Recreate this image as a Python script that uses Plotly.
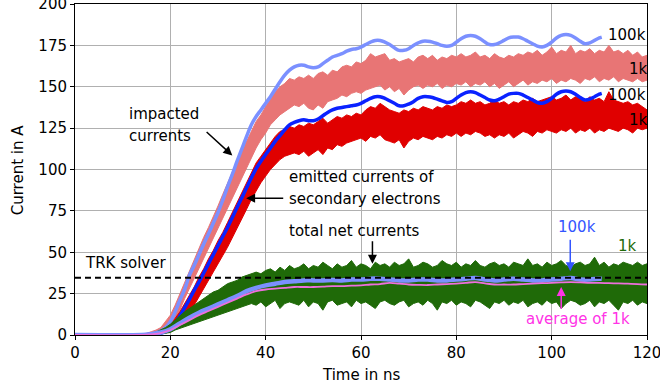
import plotly.graph_objects as go

# ---------------- data ----------------
# smooth 100k curves (impacted / emitted), t in ns, current in A
T_SMOOTH = [0, 14, 16, 17, 18, 19, 20, 21, 22, 23, 24, 25, 26, 27, 28, 29, 30, 31, 32, 33, 34, 35, 36, 37, 38, 39,
            40, 41, 42, 43, 44, 45, 46, 47, 48, 49, 50, 51, 52, 53, 54, 55, 56, 57, 58, 59, 60, 61, 62, 63, 64,
            65, 66, 67, 68, 69, 70, 71, 72, 73, 74, 75, 76, 77, 78, 79, 80, 81, 82, 83, 84, 85, 86, 87, 88, 89,
            90, 91, 92, 93, 94, 95, 96, 97, 98, 99, 100, 101, 102, 103, 104, 105, 106, 107, 108, 109, 110, 110.5]
IMPACT_100K = [0, 0, 0.6, 1.3, 2.5, 4.5, 8, 14, 21, 27.5, 36, 42, 48.5, 55, 61, 67.5, 74, 81.5, 89.5, 97, 105,
               112.5, 120, 127, 132, 136, 140, 144, 148.5, 153, 157, 160, 162, 163, 163, 162, 161.5, 162, 164,
               166, 168, 169, 170, 171.5, 172.5, 173, 174, 175.5, 177, 178, 178, 177, 175.5, 173.5, 172, 172,
               173, 175, 176.5, 177.5, 177.5, 177, 176, 175, 174.5, 175, 177, 179, 180.5, 181, 180.5, 179, 177,
               175.5, 175.5, 176.5, 178, 179.5, 180, 180, 179, 177.5, 176, 174.5, 174, 175, 177, 179.5, 181,
               181.5, 181, 179.5, 177.5, 176, 176.5, 178, 179.5, 180]
EMIT_100K = [0, 0, 0.3, 0.7, 1.2, 2, 3.5, 7, 11.5, 16.5, 21.5, 27, 32, 37.5, 43, 48.5, 54, 59.5, 65, 71, 77,
             83, 89, 95, 100.5, 105, 109, 113, 117, 120.5, 124, 127, 128.5, 129.5, 130, 129.5, 129.5, 130.5,
             132.5, 134.5, 136, 137, 137.5, 138, 138.5, 139, 140, 141.5, 143, 144, 144, 143, 141.5, 140, 138.5,
             138.5, 139.5, 141, 143, 144, 144, 143.5, 142.5, 141.5, 140.5, 141, 143, 145, 146.5, 147, 146.5,
             145, 143.5, 142, 141.5, 142.5, 144, 145.5, 146, 146, 145, 143.5, 142, 140.5, 140, 141, 143, 145.5,
             147, 147.5, 147, 145.5, 143.5, 142, 142.5, 144, 145.5, 146]

# noisy 1k curves, given as lower / upper envelopes on a 1 ns grid
T_BAND = list(range(14, 121))
IMPACT_1K_LO = [0, 0.2, 0.5, 1, 2, 3, 5, 9, 15, 22, 28, 35, 41, 47, 53, 59, 65, 71, 77, 83, 89, 95, 101, 107,
                113, 118, 122, 127, 130, 133, 135, 137, 139, 138, 140, 137, 136, 139, 137, 141, 142, 143, 145,
                144, 146, 147, 146, 148, 149, 150, 151, 148, 150, 147, 149, 145, 148, 150, 151, 149, 151, 150,
                152, 149, 151, 150, 152, 151, 153, 150, 152, 151, 153, 150, 152, 149, 151, 153, 150, 152, 154,
                151, 153, 152, 154, 153, 155, 152, 154, 153, 155, 154, 152, 155, 154, 156, 153, 155, 154, 156,
                153, 155, 154, 153, 155, 153, 154]
IMPACT_1K_HI = [0.5, 1, 2, 3, 4.5, 8, 12, 18, 25, 32, 39, 46, 52, 59, 65, 71, 78, 85, 92, 99, 105, 111, 117, 124,
                129, 133, 138, 143, 147, 150, 152, 155, 154, 156, 155, 157, 155, 158, 159, 157, 160, 159, 162,
                163, 162, 165, 164, 166, 170, 168, 169, 170, 166, 167, 165, 166, 167, 165, 168, 169, 167, 169,
                166, 168, 167, 169, 168, 170, 168, 169, 171, 168, 169, 167, 170, 168, 167, 169, 168, 170, 169,
                171, 170, 172, 169, 171, 174, 170, 172, 171, 175, 170, 172, 171, 173, 170, 172, 171, 175, 171,
                172, 170, 172, 169, 171, 168, 169]
EMIT_1K_LO = [0, 0, 0.2, 0.5, 0.8, 1.2, 2, 3.5, 6, 10, 14, 18, 23, 28, 33, 38, 43, 48, 53, 59, 64, 70, 76, 82,
              87, 92, 96, 100, 103, 106, 108, 109, 110, 109, 111, 108, 110, 112, 109, 113, 112, 115, 114, 116,
              117, 118, 119, 117, 120, 119, 121, 118, 117, 116, 118, 113, 117, 119, 118, 120, 119, 118, 120,
              119, 121, 120, 122, 120, 122, 121, 123, 122, 120, 121, 119, 121, 120, 122, 119, 121, 123, 122,
              120, 123, 122, 124, 123, 122, 124, 123, 125, 122, 124, 123, 125, 122, 124, 123, 125, 124, 123,
              125, 124, 122, 125, 124, 125]
EMIT_1K_HI = [0.3, 0.5, 1, 1.8, 3, 4.5, 7, 10, 14, 19, 24, 29, 35, 40, 46, 51, 57, 62, 68, 74, 80, 87, 93, 99,
              104, 108, 112, 116, 120, 123, 124, 126, 125, 127, 126, 128, 127, 129, 131, 128, 130, 132, 131,
              133, 132, 134, 133, 136, 138, 137, 140, 138, 136, 135, 134, 136, 135, 137, 136, 138, 137, 136,
              138, 137, 139, 138, 139, 141, 140, 142, 140, 141, 139, 140, 142, 140, 141, 139, 141, 140, 142,
              141, 143, 141, 142, 143, 144, 142, 143, 145, 142, 144, 143, 141, 144, 142, 143, 141, 147, 142,
              141, 140, 141, 139, 140, 138, 136]
NET_1K_LO = [0, 0, 0.1, 0.3, 0.5, 1, 1.5, 3, 4, 5, 6, 7, 8, 9, 10, 11, 12, 13, 14, 15, 16, 17, 18, 19,
             18, 20, 17, 19, 21, 16, 19, 20, 19, 18, 21, 17, 20, 19, 15, 20, 21, 18, 19, 20,
             17, 21, 19, 20, 18, 16, 20, 21, 19, 18, 20, 21, 17, 19, 20, 18, 21, 19, 15, 20,
             19, 21, 18, 20, 19, 17, 21, 20, 18, 16, 20, 19, 21, 18, 20, 19, 21, 17, 19, 20,
             18, 21, 19, 20, 16, 19, 21, 20, 18, 19, 21, 17, 20, 19, 21, 18, 15, 20, 19, 21, 18, 20, 19]
NET_1K_HI = [0.3, 0.5, 1, 1.8, 3, 4.5, 6.5, 9, 12, 14, 16, 18, 20, 22, 24, 26, 27, 29, 31, 32, 33, 35, 36, 37,
             38, 37, 39, 40, 38, 41, 39, 42, 40, 41, 43, 40, 42, 41, 44, 42, 40, 43, 41, 42,
             45, 41, 43, 42, 40, 44, 42, 43, 41, 44, 42, 43, 46, 41, 42, 44, 43, 41, 42, 45,
             43, 42, 44, 41, 43, 42, 45, 42, 41, 43, 44, 42, 43, 41, 44, 43, 42, 46, 42, 43,
             41, 44, 42, 43, 45, 42, 41, 43, 44, 42, 43, 47, 42, 44, 41, 43, 42, 44, 43, 42, 44, 42, 43]

# smooth net current (100k) and average of the 1k net current
T_NET = [0, 14, 16, 18, 20, 22, 24, 26, 28, 30, 32, 34, 36, 38, 40, 42, 44, 46, 48, 50, 52, 54, 56, 58, 60, 62,
         64, 66, 68, 70, 72, 74, 76, 78, 80, 82, 84, 86, 88, 90, 92, 94, 96, 98, 100, 102, 104, 106, 108, 110,
         110.5]
NET_100K = [0, 0, 0.5, 1.5, 3.5, 7, 10.5, 13.5, 16, 18.5, 21, 23.5, 26.5, 28.5, 30, 31, 32, 32.5, 33, 33, 33,
            33.2, 33, 33.5, 33.5, 34, 34, 33.5, 33, 33, 33.5, 33.5, 33, 33, 33.5, 34, 34.5, 33.5, 33, 33.5, 34,
            33.5, 33, 33, 33.5, 34, 34.5, 33.5, 33.5, 34, 34]
T_AVG = [0, 14, 16, 18, 20, 22, 24, 26, 28, 30, 32, 34, 36, 38, 40, 42, 44, 46, 48, 50, 52, 54, 56, 58, 60, 62,
         64, 66, 68, 70, 72, 74, 76, 78, 80, 82, 84, 86, 88, 90, 92, 94, 96, 98, 100, 102, 104, 106, 108, 110,
         112, 114, 116, 118, 120]
NET_1K_AVG = [0, 0, 0.3, 1.2, 3, 6, 9, 12, 14.5, 17, 19.5, 22, 24.5, 26.5, 27.5, 28, 28.5, 29, 29, 29, 29.2,
              29.5, 29.5, 29.8, 30, 30.5, 30.8, 31.5, 31, 30.5, 30.3, 30.2, 30.5, 30.8, 31, 31.5, 32, 31.2,
              30.5, 30.5, 30.5, 30.8, 31, 31.3, 31.5, 31.8, 32, 31.8, 31.5, 31.5, 31.3, 31.2, 31, 30.8, 30.5]

TRK_T = [0, 120]
TRK_I = [34.6, 34.6]

X_TICKS = [0, 20, 40, 60, 80, 100, 120]
Y_TICKS = [0, 25, 50, 75, 100, 125, 150, 175, 200]

# ---------------- colours ----------------
C_LRED = "#e87575"
C_RED = "#e00000"
C_LBLUE = "#7b90ff"
C_BLUE = "#0a22ff"
C_GREEN = "#1f6a08"
C_PINK = "#ee6fdd"
C_MAG = "#ff33e6"
C_BLUETXT = "#3355ff"
FONT = "DejaVu Sans"


def band(t, lo, hi, color):
    return go.Scatter(x=list(t) + list(t)[::-1], y=list(hi) + list(lo)[::-1], fill="toself",
                      fillcolor=color, mode="lines", line=dict(color=color, width=1),
                      hoverinfo="skip", showlegend=False)


fig = go.Figure()
fig.add_trace(band(T_BAND, IMPACT_1K_LO, IMPACT_1K_HI, C_LRED))
fig.add_trace(band(T_BAND, EMIT_1K_LO, EMIT_1K_HI, C_RED))
fig.add_trace(go.Scatter(x=T_SMOOTH, y=IMPACT_100K, mode="lines", line=dict(color=C_LBLUE, width=3.5, shape="spline"),
                         showlegend=False))
fig.add_trace(go.Scatter(x=T_SMOOTH, y=EMIT_100K, mode="lines", line=dict(color=C_BLUE, width=3.5, shape="spline"),
                         showlegend=False))
fig.add_trace(band(T_BAND, NET_1K_LO, NET_1K_HI, C_GREEN))
fig.add_trace(go.Scatter(x=T_NET, y=NET_100K, mode="lines", line=dict(color=C_LBLUE, width=4.5, shape="spline"),
                         showlegend=False))
fig.add_trace(go.Scatter(x=T_AVG, y=NET_1K_AVG, mode="lines", line=dict(color=C_PINK, width=1.8, shape="spline"),
                         showlegend=False))
fig.add_trace(go.Scatter(x=TRK_T, y=TRK_I, mode="lines", line=dict(color="black", width=2, dash="6px,4px"),
                         showlegend=False))

ann = []


def text(x, y, s, color="black", xanchor="left"):
    ann.append(dict(x=x, y=y, xref="x", yref="y", text=s, showarrow=False, xanchor=xanchor, yanchor="middle",
                    font=dict(family=FONT, size=15, color=color)))


def arrow(x0, y0, x1, y1, color="black"):
    ann.append(dict(x=x1, y=y1, ax=x0, ay=y0, xref="x", yref="y", axref="x", ayref="y", text="",
                    showarrow=True, arrowhead=2, arrowsize=1.2, arrowwidth=1.5, arrowcolor=color))


text(1.7, 43.5, "TRK solver")
text(10.9, 133.5, "impacted")
text(10.9, 120.5, "currents")
arrow(27.3, 123.5, 33.0, 108.5)
text(44.4, 95.3, "emitted currents of")
text(44.4, 82.2, "secondary electrons")
arrow(44.0, 82.7, 35.9, 82.7)
text(44.4, 62.8, "total net currents")
arrow(62.4, 57.5, 62.4, 43.0)
text(105.3, 65.0, "100k", color=C_BLUETXT, xanchor="center")
arrow(103.9, 58.5, 103.9, 38.5, color=C_BLUETXT)
text(115.9, 53.7, "1k", color=C_GREEN, xanchor="center")
text(105.5, 9.7, "average of 1k", color=C_MAG, xanchor="center")
arrow(102.0, 15.0, 102.0, 29.0, color=C_MAG)
text(111.3, 181, "100k")
text(115.7, 161, "1k")
text(111.3, 144.8, "100k")
text(115.7, 129.7, "1k")

# axis titles placed as paper annotations
ann.append(dict(x=-0.1, y=0.5, xref="paper", yref="paper", text="Current in A", showarrow=False,
                textangle=-90, xanchor="center", yanchor="middle",
                font=dict(family=FONT, size=15, color="black")))
ann.append(dict(x=0.5, y=-0.121, xref="paper", yref="paper", text="Time in ns", showarrow=False,
                xanchor="center", yanchor="middle", font=dict(family=FONT, size=15, color="black")))

axis_common = dict(showline=True, linecolor="black", linewidth=1, mirror=True, ticks="outside", ticklen=4,
                   tickcolor="black", showgrid=True, gridcolor="#b0b0b0", gridwidth=1, zeroline=False,
                   automargin=False, ticklabeloverflow="allow",
                   tickfont=dict(family=FONT, size=15, color="black"))

fig.update_layout(
    width=660, height=389, margin=dict(l=75, r=13, t=4, b=54, autoexpand=False),
    paper_bgcolor="white", plot_bgcolor="white",
    xaxis=dict(range=[0, 120], tickvals=X_TICKS, **axis_common),
    yaxis=dict(range=[0, 200], tickvals=Y_TICKS, **axis_common),
    annotations=ann,
)
fig.write_html("out.html", config={"displayModeBar": False},
               post_script="document.body.style.margin='0';document.body.style.overflow='hidden';")
